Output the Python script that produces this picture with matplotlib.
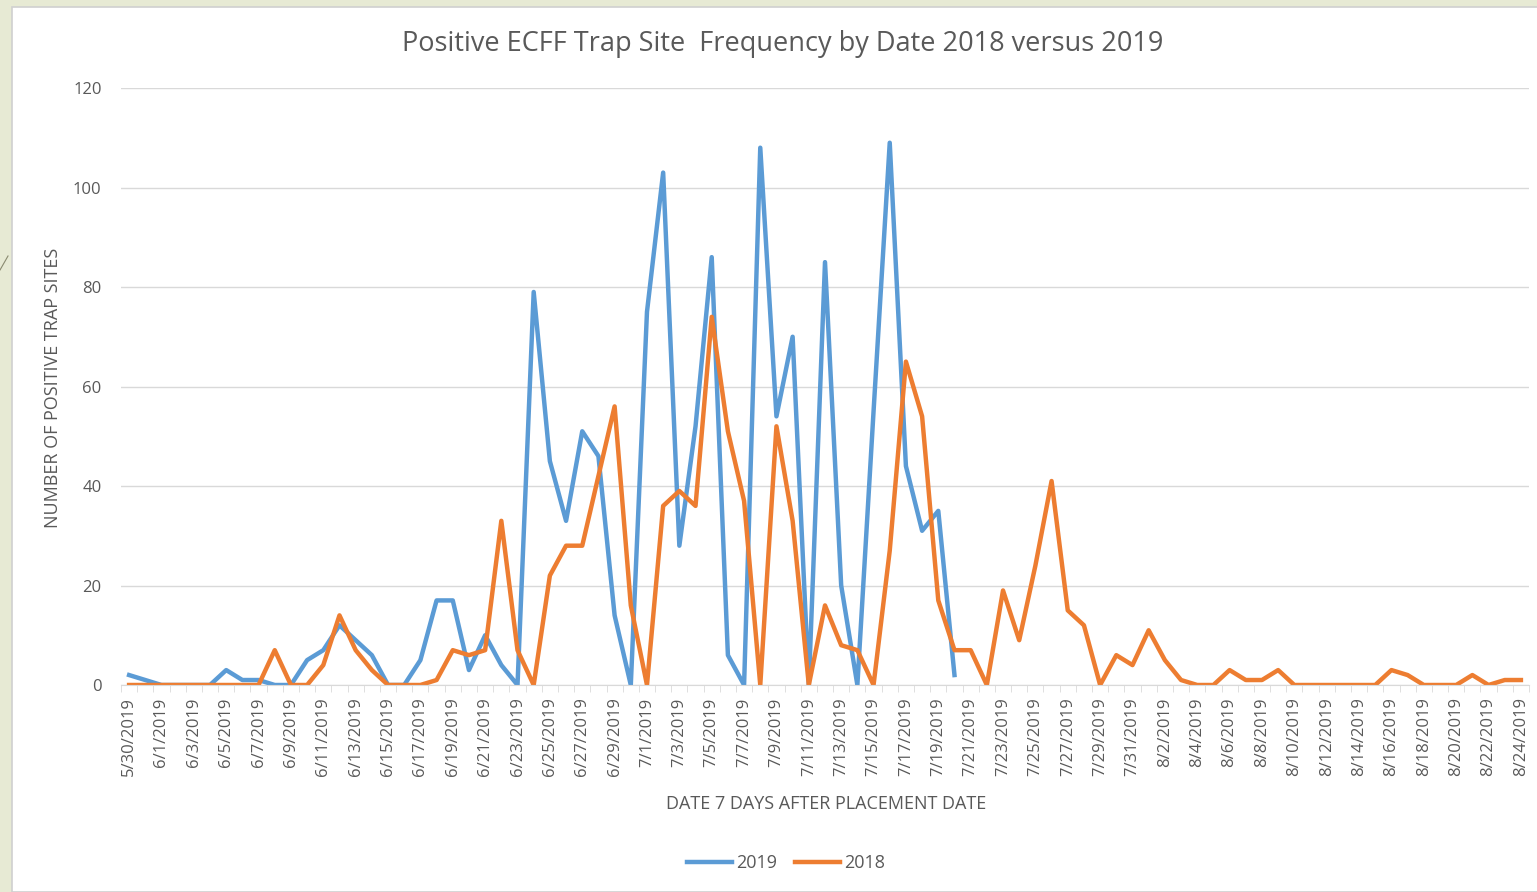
import matplotlib.pyplot as plt
import matplotlib.patches as mpatches
import pandas as pd

plt.rcParams['font.family'] = ['Open Sans', 'DejaVu Sans']

dates = pd.date_range('2019-05-30', '2019-08-24', freq='D')
date_labels = [f'{d.month}/{d.day}/{d.year}' for d in dates]

vals_2019 = [2, 1, 0, 0, 0, 0, 3, 1, 1, 0, 0, 5, 7, 12, 9, 6, 0, 0, 5, 17,
             17, 3, 10, 4, 0, 79, 45, 33, 51, 46, 14, 0, 75, 103, 28, 52, 86, 6, 0, 108,
             54, 70, 0, 85, 20, 0, 55, 109, 44, 31, 35, 2]
vals_2018 = [0, 0, 0, 0, 0, 0, 0, 0, 0, 7, 0, 0, 4, 14, 7, 3, 0, 0, 0, 1,
             7, 6, 7, 33, 7, 0, 22, 28, 28, 42, 56, 16, 0, 36, 39, 36, 74, 51, 37, 0,
             52, 33, 0, 16, 8, 7, 0, 27, 65, 54, 17, 7, 7, 0, 19, 9, 24, 41, 15, 12,
             0, 6, 4, 11, 5, 1, 0, 0, 3, 1, 1, 3, 0, 0, 0, 0, 0, 0, 3, 2,
             0, 0, 0, 2, 0, 1, 1]
y_ticks = [0, 20, 40, 60, 80, 100, 120]

grey = '#595959'
blue = '#5B9BD5'
orange = '#ED7D31'

W, H = 1537, 892
fig = plt.figure(figsize=(W / 100, H / 100), dpi=100)
fig.patch.set_facecolor('#E7EAD4')

# white chart area with thin border
fig.patches.append(mpatches.Rectangle((12 / W, 0), 1, 1 - 7 / H, transform=fig.transFigure,
                                      facecolor='white', edgecolor='#D0D0D0', lw=1.2, zorder=-10))
fig.lines.append(plt.Line2D([0, 8 / W], [1 - 270 / H, 1 - 256 / H], transform=fig.transFigure,
                            color='#8A8A70', lw=0.8))

ax = fig.add_axes([121 / W, 1 - 685 / H, 1408 / W, 597 / H])
ax.set_facecolor('none')
ax.set_zorder(5)

x_2019 = list(range(len(vals_2019)))
x_2018 = list(range(len(vals_2018)))
ax.plot(x_2019, vals_2019, color=blue, lw=3.2, label='2019')
ax.plot(x_2018, vals_2018, color=orange, lw=3.2, label='2018')

ax.set_xlim(-0.5, len(dates) - 0.5)
ax.set_ylim(0, 120)
ax.set_yticks(y_ticks)
ax.yaxis.grid(True, color='#D9D9D9', lw=1)
ax.set_axisbelow(True)

ax.set_xticks(range(0, len(dates), 2))
ax.set_xticklabels(date_labels[::2], rotation=90)
ax.set_xticks([i - 0.5 for i in range(len(dates) + 1)], minor=True)
ax.tick_params(axis='x', which='major', length=0, pad=9, labelsize=12, labelcolor=grey)
ax.tick_params(axis='x', which='minor', length=5, color='#D9D9D9')
ax.tick_params(axis='y', length=0, pad=14, labelsize=12, labelcolor=grey)

for s in ['top', 'right', 'left']:
    ax.spines[s].set_visible(False)
ax.spines['bottom'].set_color('#D9D9D9')

fig.text(783 / W, 1 - 44 / H, 'Positive ECFF Trap Site  Frequency by Date 2018 versus 2019',
         ha='center', va='center', fontsize=19.5, color=grey)
fig.text(826 / W, 1 - 804 / H, 'DATE 7 DAYS AFTER PLACEMENT DATE',
         ha='center', va='center', fontsize=13, color=grey)
fig.text(53 / W, 1 - 388 / H, 'NUMBER OF POSITIVE TRAP SITES',
         ha='center', va='center', rotation=90, fontsize=13, color=grey)

fig.legend(loc='center', bbox_to_anchor=(786 / W, 1 - 863 / H), ncol=2, frameon=False,
           fontsize=13, labelcolor=grey, handlelength=2.5, handletextpad=0.2, columnspacing=1.0)

fig.savefig('out.png', dpi=100, facecolor=fig.get_facecolor())
